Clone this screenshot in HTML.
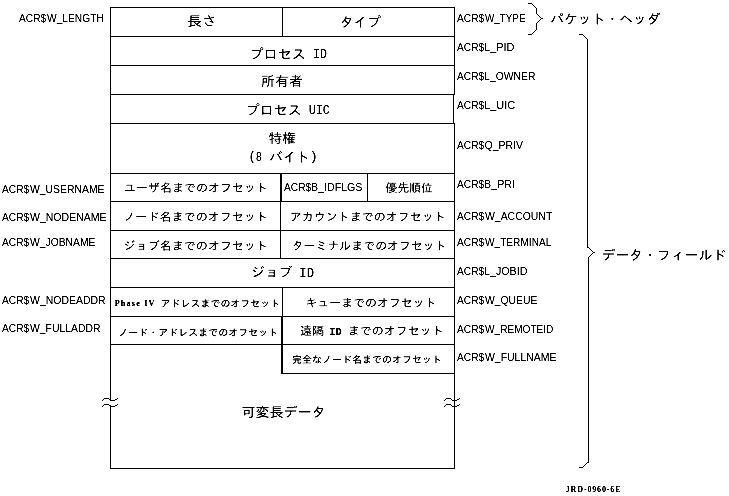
<!DOCTYPE html>
<html lang="ja">
<head>
<meta charset="utf-8">
<title>ACR packet layout</title>
<style>
html,body{margin:0;padding:0;background:#fff;}
body{width:729px;height:496px;overflow:hidden;}
svg{display:block;}
.ln rect{fill:#000;shape-rendering:crispEdges;}
text{fill:#000;white-space:pre;}
.lab{font-family:"Liberation Sans",sans-serif;font-size:11.7px;}
.j{font-family:"Liberation Sans","IPAGothic","Noto Sans CJK JP",sans-serif;}
.m{font-family:"Liberation Mono","IPAGothic",monospace;}
.mb{font-family:"Liberation Mono","IPAGothic",monospace;font-weight:bold;}
.sb{font-family:"Liberation Serif",serif;font-weight:bold;}
</style>
</head>
<body>
<svg width="729" height="496" viewBox="0 0 729 496">
<rect x="0" y="0" width="729" height="496" fill="#fff"/>
<g class="ln">
<rect x="536" y="8" width="1" height="6"/>
<rect x="539" y="16" width="1" height="1"/>
<rect x="532" y="4" width="1" height="1"/>
<rect x="528" y="3" width="4" height="1"/>
<rect x="540" y="17" width="1" height="1"/>
<rect x="541" y="18" width="2" height="1"/>
<rect x="534" y="6" width="1" height="1"/>
<rect x="538" y="15" width="1" height="1"/>
<rect x="533" y="5" width="1" height="1"/>
<rect x="537" y="14" width="1" height="1"/>
<rect x="535" y="7" width="1" height="1"/>
<rect x="536" y="23" width="1" height="7"/>
<rect x="528" y="34" width="4" height="1"/>
<rect x="534" y="31" width="1" height="1"/>
<rect x="537" y="22" width="1" height="1"/>
<rect x="533" y="32" width="1" height="1"/>
<rect x="541" y="18" width="1" height="1"/>
<rect x="540" y="19" width="1" height="1"/>
<rect x="538" y="21" width="1" height="1"/>
<rect x="539" y="20" width="1" height="1"/>
<rect x="532" y="33" width="1" height="1"/>
<rect x="535" y="30" width="1" height="1"/>
<rect x="587" y="39" width="1" height="209"/>
<rect x="579" y="34" width="4" height="1"/>
<rect x="585" y="37" width="1" height="1"/>
<rect x="583" y="35" width="1" height="1"/>
<rect x="586" y="38" width="1" height="1"/>
<rect x="584" y="36" width="1" height="1"/>
<rect x="593" y="252" width="2" height="1"/>
<rect x="590" y="249" width="1" height="1"/>
<rect x="592" y="251" width="1" height="1"/>
<rect x="588" y="247" width="1" height="1"/>
<rect x="591" y="250" width="1" height="1"/>
<rect x="589" y="248" width="1" height="1"/>
<rect x="589" y="256" width="1" height="1"/>
<rect x="590" y="255" width="1" height="1"/>
<rect x="591" y="254" width="1" height="1"/>
<rect x="592" y="253" width="1" height="1"/>
<rect x="588" y="257" width="1" height="206"/>
<rect x="579" y="467" width="4" height="1"/>
<rect x="583" y="466" width="1" height="1"/>
<rect x="584" y="465" width="1" height="1"/>
<rect x="586" y="463" width="1" height="1"/>
<rect x="587" y="462" width="1" height="1"/>
<rect x="585" y="464" width="1" height="1"/>
<rect x="103" y="399" width="1" height="1"/>
<rect x="109" y="399" width="1" height="1"/>
<rect x="115" y="399" width="2" height="1"/>
<rect x="102" y="400" width="1" height="1"/>
<rect x="110" y="400" width="5" height="1"/>
<rect x="104" y="398" width="5" height="1"/>
<rect x="117" y="398" width="1" height="1"/>
<rect x="103" y="405" width="1" height="1"/>
<rect x="109" y="405" width="1" height="1"/>
<rect x="115" y="405" width="2" height="1"/>
<rect x="102" y="406" width="1" height="1"/>
<rect x="110" y="406" width="5" height="1"/>
<rect x="104" y="404" width="5" height="1"/>
<rect x="117" y="404" width="1" height="1"/>
<rect x="445" y="399" width="1" height="1"/>
<rect x="451" y="399" width="1" height="1"/>
<rect x="457" y="399" width="2" height="1"/>
<rect x="446" y="398" width="5" height="1"/>
<rect x="459" y="398" width="1" height="1"/>
<rect x="444" y="400" width="1" height="1"/>
<rect x="452" y="400" width="5" height="1"/>
<rect x="445" y="405" width="1" height="1"/>
<rect x="451" y="405" width="1" height="1"/>
<rect x="457" y="405" width="2" height="1"/>
<rect x="446" y="404" width="5" height="1"/>
<rect x="459" y="404" width="1" height="1"/>
<rect x="444" y="406" width="1" height="1"/>
<rect x="452" y="406" width="5" height="1"/>
<rect x="110" y="7" width="345" height="1"/>
<rect x="110" y="36" width="345" height="1"/>
<rect x="110" y="65" width="345" height="1"/>
<rect x="110" y="94" width="345" height="1"/>
<rect x="110" y="123" width="345" height="1"/>
<rect x="110" y="173" width="345" height="1"/>
<rect x="110" y="201" width="345" height="1"/>
<rect x="110" y="230" width="345" height="1"/>
<rect x="110" y="258" width="345" height="1"/>
<rect x="110" y="287" width="345" height="1"/>
<rect x="110" y="316" width="345" height="1"/>
<rect x="110" y="344" width="345" height="1"/>
<rect x="281" y="373" width="174" height="1"/>
<rect x="110" y="468" width="345" height="1"/>
<rect x="110" y="7" width="1" height="394"/>
<rect x="110" y="405" width="1" height="64"/>
<rect x="454" y="7" width="1" height="88"/>
<rect x="453" y="94" width="1" height="30"/>
<rect x="454" y="123" width="1" height="346"/>
<rect x="282" y="7" width="1" height="30"/>
<rect x="280" y="173" width="2" height="29"/>
<rect x="280" y="201" width="1" height="58"/>
<rect x="282" y="287" width="1" height="30"/>
<rect x="281" y="316" width="2" height="57"/>
<rect x="367" y="173" width="1" height="29"/>
</g>
<defs>
<filter id="ink" x="0" y="0" width="729" height="496" filterUnits="userSpaceOnUse" color-interpolation-filters="sRGB">
<feComponentTransfer><feFuncA type="linear" slope="2.2" intercept="-0.45"/></feComponentTransfer>
</filter>
<filter id="inks" x="0" y="0" width="729" height="496" filterUnits="userSpaceOnUse" color-interpolation-filters="sRGB">
<feComponentTransfer><feFuncA type="linear" slope="2.2" intercept="-0.3"/></feComponentTransfer>
</filter>
</defs>
<g filter="url(#ink)">
<text class="lab" y="22"><tspan x="19" textLength="27.16" lengthAdjust="spacingAndGlyphs">ACR$</tspan><tspan x="47" textLength="56.83" lengthAdjust="spacingAndGlyphs">W_LENGTH</tspan></text>
<text class="lab" y="22"><tspan x="457" textLength="27.16" lengthAdjust="spacingAndGlyphs">ACR$</tspan><tspan x="485" textLength="40.47" lengthAdjust="spacingAndGlyphs">W_TYPE</tspan></text>
<text class="lab" y="51"><tspan x="457" textLength="27.16" lengthAdjust="spacingAndGlyphs">ACR$</tspan><tspan x="484.06" textLength="30.39" lengthAdjust="spacingAndGlyphs">L_PID</tspan></text>
<text class="lab" y="80"><tspan x="457" textLength="27.16" lengthAdjust="spacingAndGlyphs">ACR$</tspan><tspan x="484.11" textLength="51.39" lengthAdjust="spacingAndGlyphs">L_OWNER</tspan></text>
<text class="lab" y="109"><tspan x="457" textLength="27.16" lengthAdjust="spacingAndGlyphs">ACR$</tspan><tspan x="484.06" textLength="31.31" lengthAdjust="spacingAndGlyphs">L_UIC</tspan></text>
<text class="lab" y="149"><tspan x="457" textLength="27.16" lengthAdjust="spacingAndGlyphs">ACR$</tspan><tspan x="484.55" textLength="38.56" lengthAdjust="spacingAndGlyphs">Q_PRIV</tspan></text>
<text class="lab" y="188"><tspan x="457" textLength="27.16" lengthAdjust="spacingAndGlyphs">ACR$</tspan><tspan x="484.09" textLength="30.86" lengthAdjust="spacingAndGlyphs">B_PRI</tspan></text>
<text class="lab" y="220"><tspan x="457" textLength="27.16" lengthAdjust="spacingAndGlyphs">ACR$</tspan><tspan x="485" textLength="67.29" lengthAdjust="spacingAndGlyphs">W_ACCOUNT</tspan></text>
<text class="lab" y="246"><tspan x="457" textLength="27.16" lengthAdjust="spacingAndGlyphs">ACR$</tspan><tspan x="485" textLength="66.34" lengthAdjust="spacingAndGlyphs">W_TERMINAL</tspan></text>
<text class="lab" y="275"><tspan x="457" textLength="27.16" lengthAdjust="spacingAndGlyphs">ACR$</tspan><tspan x="484.09" textLength="43.3" lengthAdjust="spacingAndGlyphs">L_JOBID</tspan></text>
<text class="lab" y="304"><tspan x="457" textLength="27.16" lengthAdjust="spacingAndGlyphs">ACR$</tspan><tspan x="485" textLength="52.32" lengthAdjust="spacingAndGlyphs">W_QUEUE</tspan></text>
<text class="lab" y="333"><tspan x="457" textLength="27.16" lengthAdjust="spacingAndGlyphs">ACR$</tspan><tspan x="485" textLength="68.4" lengthAdjust="spacingAndGlyphs">W_REMOTEID</tspan></text>
<text class="lab" y="361"><tspan x="457" textLength="27.16" lengthAdjust="spacingAndGlyphs">ACR$</tspan><tspan x="485" textLength="71.35" lengthAdjust="spacingAndGlyphs">W_FULLNAME</tspan></text>
<text class="lab" y="193"><tspan x="2" textLength="27.16" lengthAdjust="spacingAndGlyphs">ACR$</tspan><tspan x="30" textLength="74.47" lengthAdjust="spacingAndGlyphs">W_USERNAME</tspan></text>
<text class="lab" y="221"><tspan x="2" textLength="27.16" lengthAdjust="spacingAndGlyphs">ACR$</tspan><tspan x="30" textLength="76.52" lengthAdjust="spacingAndGlyphs">W_NODENAME</tspan></text>
<text class="lab" y="246"><tspan x="2" textLength="27.16" lengthAdjust="spacingAndGlyphs">ACR$</tspan><tspan x="30" textLength="65.47" lengthAdjust="spacingAndGlyphs">W_JOBNAME</tspan></text>
<text class="lab" y="304"><tspan x="2" textLength="27.16" lengthAdjust="spacingAndGlyphs">ACR$</tspan><tspan x="30" textLength="75.6" lengthAdjust="spacingAndGlyphs">W_NODEADDR</tspan></text>
<text class="lab" y="332"><tspan x="2" textLength="27.16" lengthAdjust="spacingAndGlyphs">ACR$</tspan><tspan x="30" textLength="70.43" lengthAdjust="spacingAndGlyphs">W_FULLADDR</tspan></text>
<text class="lab" y="191"><tspan x="284" textLength="27.16" lengthAdjust="spacingAndGlyphs">ACR$</tspan><tspan x="311.09" textLength="51.38" lengthAdjust="spacingAndGlyphs">B_IDFLGS</tspan></text>
<text><tspan class="j" font-size="13.58" x="186.97" y="26.27" textLength="30.07" lengthAdjust="spacingAndGlyphs">長さ</tspan></text>
<text><tspan class="j" font-size="13.58" x="339.94" y="26.88" textLength="41" lengthAdjust="spacingAndGlyphs">タイプ</tspan></text>
<text><tspan class="j" font-size="13.58" x="249.57" y="59.4" textLength="56.25" lengthAdjust="spacingAndGlyphs">プロセス</tspan> <tspan class="m" font-size="12" x="313.09" y="58.25" textLength="13.95" lengthAdjust="spacingAndGlyphs">ID</tspan></text>
<text><tspan class="j" font-size="13.58" x="261.03" y="86.28" textLength="41.82" lengthAdjust="spacingAndGlyphs">所有者</tspan></text>
<text><tspan class="j" font-size="13.58" x="245.79" y="115.3" textLength="55.82" lengthAdjust="spacingAndGlyphs">プロセス</tspan> <tspan class="m" font-size="12" x="308.77" y="113.82" textLength="21.13" lengthAdjust="spacingAndGlyphs">UIC</tspan></text>
<text><tspan class="j" font-size="13.58" x="268.43" y="143.32" textLength="27.8" lengthAdjust="spacingAndGlyphs">特権</tspan></text>
<text><tspan class="m" font-size="12" x="248.57" y="160.07" textLength="7.31" lengthAdjust="spacingAndGlyphs">(</tspan><tspan class="m" font-size="12" x="255.65" y="161.12" textLength="6.26" lengthAdjust="spacingAndGlyphs">8</tspan> <tspan class="j" font-size="13.58" x="269.3" y="162" textLength="40.57" lengthAdjust="spacingAndGlyphs">バイト</tspan><tspan class="m" font-size="12" x="309.46" y="160.07" textLength="8.42" lengthAdjust="spacingAndGlyphs">)</tspan></text>
<text><tspan class="j" font-size="11.64" x="123.81" y="191.93" textLength="144.32" lengthAdjust="spacingAndGlyphs">ユーザ名までのオフセット</tspan></text>
<text><tspan class="j" font-size="11.64" x="385.59" y="192.43" textLength="47.37" lengthAdjust="spacingAndGlyphs">優先順位</tspan></text>
<text><tspan class="j" font-size="11.64" x="123.26" y="220.82" textLength="144.87" lengthAdjust="spacingAndGlyphs">ノード名までのオフセット</tspan></text>
<text><tspan class="j" font-size="11.64" x="289.85" y="221.3" textLength="156.04" lengthAdjust="spacingAndGlyphs">アカウントまでのオフセット</tspan></text>
<text><tspan class="j" font-size="11.64" x="123.55" y="249.65" textLength="144.59" lengthAdjust="spacingAndGlyphs">ジョブ名までのオフセット</tspan></text>
<text><tspan class="j" font-size="11.64" x="291.66" y="249.52" textLength="155.02" lengthAdjust="spacingAndGlyphs">ターミナルまでのオフセット</tspan></text>
<text><tspan class="j" font-size="13.58" x="251.02" y="277.17" textLength="41.52" lengthAdjust="spacingAndGlyphs">ジョブ</tspan> <tspan class="m" font-size="12" x="299.32" y="277.05" textLength="14.75" lengthAdjust="spacingAndGlyphs">ID</tspan></text>
<text><tspan class="j" font-size="11.64" x="305.46" y="306.52" textLength="131.12" lengthAdjust="spacingAndGlyphs">キューまでのオフセット</tspan></text>
<text><tspan class="j" font-size="11.64" x="299.92" y="334.6" textLength="24.31" lengthAdjust="spacingAndGlyphs">遠隔</tspan> <tspan class="mb" font-size="10.15" x="329.24" y="334.88" textLength="12.38" lengthAdjust="spacingAndGlyphs">ID</tspan> <tspan class="j" font-size="11.64" x="347.73" y="335" textLength="96.2" lengthAdjust="spacingAndGlyphs">までのオフセット</tspan></text>
<text><tspan class="j" font-size="13.58" x="241.53" y="416.5" textLength="84.18" lengthAdjust="spacingAndGlyphs">可変長データ</tspan></text>
<text><tspan class="j" font-size="13.58" x="550.28" y="24.3" textLength="110.3" lengthAdjust="spacingAndGlyphs">パケット・ヘッダ</tspan></text>
<text><tspan class="j" font-size="13.58" x="601.62" y="259.55" textLength="124.86" lengthAdjust="spacingAndGlyphs">データ・フィールド</tspan></text>
<text><tspan class="sb" font-size="8.1" x="565.75" y="492.25" textLength="54.82" lengthAdjust="spacing">JRD-0960-6E</tspan></text>
</g>
<g filter="url(#inks)">
<text><tspan class="sb" font-size="8.17" x="114.65" y="306.3" textLength="39.75" lengthAdjust="spacing">Phase IV</tspan> <tspan class="j" font-size="9.7" x="160.61" y="307.45" textLength="119.59" lengthAdjust="spacingAndGlyphs">アドレスまでのオフセット</tspan></text>
<text><tspan class="j" font-size="9.7" x="118.39" y="335.55" textLength="159.91" lengthAdjust="spacingAndGlyphs">ノード・アドレスまでのオフセット</tspan></text>
<text><tspan class="j" font-size="9.7" x="292.13" y="362.77" textLength="149.74" lengthAdjust="spacingAndGlyphs">完全なノード名までのオフセット</tspan></text>
</g>
</svg>
</body>
</html>
